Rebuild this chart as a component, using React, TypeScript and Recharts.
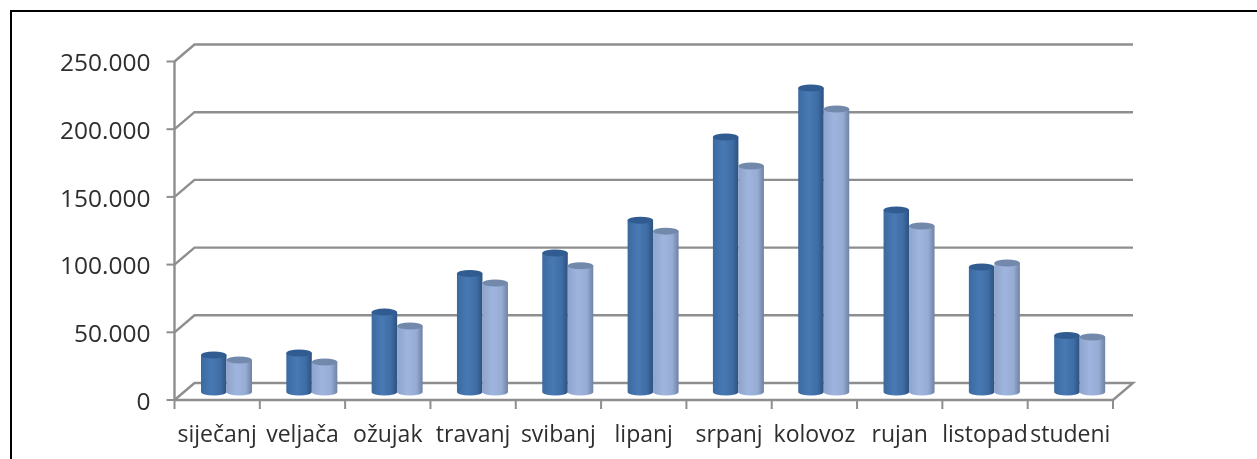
import { BarChart, Bar, XAxis, YAxis, CartesianGrid } from 'recharts';

const months = ['siječanj', 'veljača', 'ožujak', 'travanj', 'svibanj', 'lipanj', 'srpanj', 'kolovoz', 'rujan', 'listopad', 'studeni'];
const darkSeries = [27300, 28800, 59000, 87600, 102600, 126800, 188300, 224500, 134500, 92300, 41800];
const lightSeries = [23600, 22200, 48700, 80500, 93300, 118800, 166900, 209000, 122600, 95300, 40600];
const yTicks = [0, 50000, 100000, 150000, 200000, 250000];

const data = months.map((month, i) => ({ month, dark: darkSeries[i], light: lightSeries[i] }));

const GRID = '#8e8e8e';
const TEXT = '#2e2e2e';
const FONT = '"Open Sans", sans-serif';
// depth of the fake 3d box, and where the cylinders stand inside it
const WALL_DX = 20;
const WALL_DY = -17;
const BAR_DX = 9.5;
const BAR_DY = -8;
const RY = 3.5;
const FLOOR_Y = 400;

function formatThousands(value: number) {
  return value === 0 ? '0' : `${value / 1000}.000`;
}

function WallLine(props: any) {
  const { x1, x2, y1 } = props;
  const isFloor = Math.abs(y1 - FLOOR_Y) < 1;
  return (
    <g key={props.key}>
      <polyline
        points={`${x1},${y1} ${x1 + WALL_DX},${y1 + WALL_DY} ${x2 + WALL_DX},${y1 + WALL_DY}${isFloor ? ` ${x2},${y1}` : ''}`}
        fill="none"
        stroke={GRID}
        strokeWidth={2.4}
      />
    </g>
  );
}

// tick marks sit on the band edges, labels on the band centres
function MonthTick(props: any) {
  const { x, payload, width, visibleTicksCount, index } = props;
  const band = width / visibleTicksCount;
  const edge = x - band / 2;
  return (
    <g>
      <line x1={edge} x2={edge} y1={FLOOR_Y} y2={FLOOR_Y + 9} stroke={GRID} strokeWidth={2} />
      {index === visibleTicksCount - 1 && (
        <line x1={edge + band} x2={edge + band} y1={FLOOR_Y} y2={FLOOR_Y + 9} stroke={GRID} strokeWidth={2} />
      )}
      <text x={x} y={FLOOR_Y + 42} textAnchor="middle" fontSize={23} fill={TEXT} fontFamily={FONT}>
        {payload.value}
      </text>
    </g>
  );
}

function Cylinder(props: any) {
  const { x, y, width, height, gradient, cap } = props;
  const left = x + BAR_DX;
  const top = y + BAR_DY;
  const bottom = y + height + BAR_DY;
  const cx = left + width / 2;
  const rx = width / 2;
  return (
    <g>
      <path
        d={`M${left},${top} L${left},${bottom} A${rx},${RY} 0 0 0 ${left + width},${bottom} L${left + width},${top} Z`}
        fill={`url(#${gradient})`}
      />
      <ellipse cx={cx} cy={top} rx={rx} ry={RY} fill={cap} />
    </g>
  );
}

export default function App() {
  return (
    <div style={{ position: 'absolute', left: 0, top: 0, width: 1257, height: 459, overflow: 'hidden', background: '#fff' }}>
      <div
        style={{
          position: 'absolute',
          left: 10,
          top: 10,
          width: 1247,
          height: 449,
          borderTop: '2px solid #000',
          borderLeft: '2px solid #000',
          boxSizing: 'border-box',
        }}
      />
      <BarChart
        width={1257}
        height={459}
        data={data}
        barSize={25.5}
        barGap={0}
        margin={{ top: 61.5, right: 144, bottom: 19, left: 0.5 }}
        style={{ position: 'absolute', left: 0, top: 0, filter: 'blur(0.4px)' }}
      >
        <defs>
          <linearGradient id="darkBody" x1="0" y1="0" x2="1" y2="0">
            <stop offset="0%" stopColor="#3b6aa1" />
            <stop offset="40%" stopColor="#4979b3" />
            <stop offset="75%" stopColor="#3f6ea6" />
            <stop offset="100%" stopColor="#2d5280" />
          </linearGradient>
          <linearGradient id="lightBody" x1="0" y1="0" x2="1" y2="0">
            <stop offset="0%" stopColor="#8ea4cc" />
            <stop offset="40%" stopColor="#a0b5de" />
            <stop offset="75%" stopColor="#96acd5" />
            <stop offset="100%" stopColor="#6f82a3" />
          </linearGradient>
        </defs>
        <CartesianGrid vertical={false} horizontal={WallLine} />
        <XAxis
          dataKey="month"
          interval={0}
          axisLine={{ stroke: GRID, strokeWidth: 2.4 }}
          tickLine={false}
          height={40}
          tick={<MonthTick />}
        />
        <YAxis
          domain={[0, 250000]}
          ticks={yTicks}
          tickFormatter={formatThousands}
          width={174}
          axisLine={{ stroke: GRID, strokeWidth: 2.4 }}
          tickLine={{ stroke: GRID, strokeWidth: 2 }}
          tickSize={8}
          tickMargin={16}
          tick={{ fontSize: 24.5, fill: TEXT, fontFamily: FONT, dy: 1 }}
        />
        <Bar dataKey="dark" isAnimationActive={false} shape={<Cylinder gradient="darkBody" cap="#305c91" />} />
        <Bar dataKey="light" isAnimationActive={false} shape={<Cylinder gradient="lightBody" cap="#7389ac" />} />
      </BarChart>
    </div>
  );
}
